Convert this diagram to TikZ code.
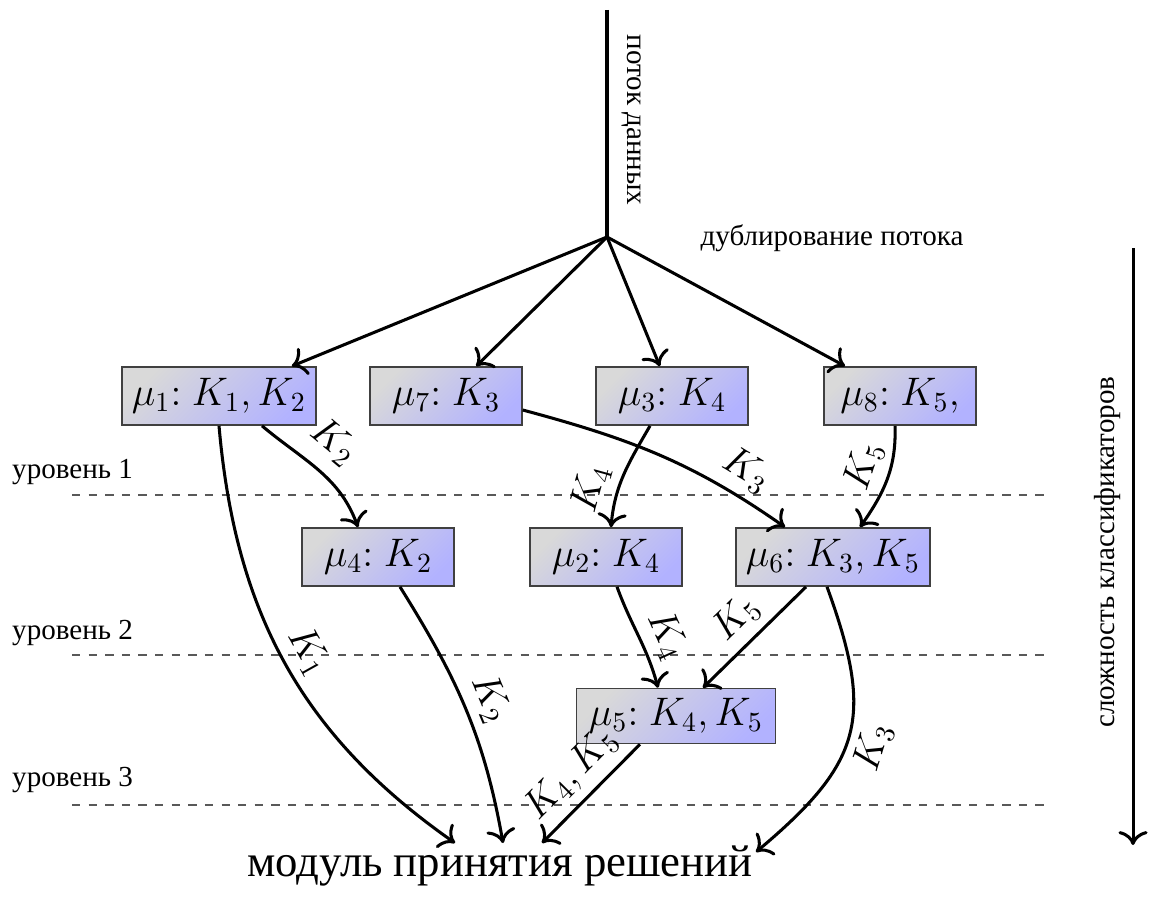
\documentclass[tikz,border=0pt]{standalone}
\usepackage[no-math]{fontspec}
\setmainfont{Liberation Serif}[Scale=1.05]
\usetikzlibrary{calc,arrows.meta}

\begin{document}
\begin{tikzpicture}[x=0.0127cm,y=0.0127cm,
  clf/.style={draw=black!75, line width=0.5pt, top color=gray!30, bottom color=blue!30,
              shading angle=45, font=\Large, minimum width=1.93cm, minimum height=0.74cm},
  flow/.style={-{To[scale=1.25]}, line width=1.1pt},
  lbl/.style={font=\Large, sloped, above, inner sep=3pt},
  lblb/.style={font=\Large, sloped, below, inner sep=3pt},
  lvl/.style={dashed, black!65, line width=0.5pt},
]
\useasboundingbox (0,0) rectangle (1151,-896);

% incoming data stream and its split
\coordinate (src) at (607,-10);
\coordinate (split) at (607,-237);
\draw[line width=1.1pt] (src) -- (split);
\node[rotate=-90] (flowlbl) at (632,-120) {поток данных};
\node (duplbl) at (832,-238) {дублирование потока};

% level separators
\coordinate (l1a) at (72,-495);  \coordinate (l1b) at (1045,-495);
\coordinate (l2a) at (72,-655);  \coordinate (l2b) at (1045,-655);
\coordinate (l3a) at (72,-805);  \coordinate (l3b) at (1045,-805);
\draw[lvl] (l1a) -- (l1b);
\draw[lvl] (l2a) -- (l2b);
\draw[lvl] (l3a) -- (l3b);
\node[anchor=west] (lv1) at (2,-472) {уровень 1};
\node[anchor=west] (lv2) at (2,-633) {уровень 2};
\node[anchor=west] (lv3) at (2,-780) {уровень 3};

% complexity axis
\coordinate (ax1) at (1133,-248);
\coordinate (ax2) at (1133,-845);
\draw[flow] (ax1) -- (ax2);
\node[rotate=90] (axlbl) at (1107,-552) {сложность классификаторов};

% classifiers
\node[clf] (m1) at (219,-396) {$\mu_1{:}$ $K_1, K_2$};
\node[clf] (m7) at (446,-396) {$\mu_7{:}$ $K_3$};
\node[clf] (m3) at (672,-396) {$\mu_3{:}$ $K_4$};
\node[clf] (m8) at (900,-396) {$\mu_8{:}$ $K_5,$};
\node[clf] (m4) at (378,-557) {$\mu_4{:}$ $K_2$};
\node[clf] (m2) at (606,-557) {$\mu_2{:}$ $K_4$};
\node[clf] (m6) at (833,-557) {$\mu_6{:}$ $K_3, K_5$};
\node[clf, minimum width=2.53cm, minimum height=0.70cm] (m5) at (676,-716) {$\mu_5{:}$ $K_4, K_5$};

% decision module
\node[font=\fontsize{15.4}{18}\selectfont] (dm) at (500,-866) {модуль принятия решений};

% duplication of the stream
\draw[flow] (split) -- (m1);
\draw[flow] (split) -- (m7);
\draw[flow] (split) -- (m3);
\draw[flow] (split) -- (m8);

% level 1 -> level 2
\draw[flow] ($(m1.south)+(43,0)$) to[out=-40,in=110]
  node[lbl,pos=0.45,inner sep=5pt] {$K_2$} ($(m4.north)+(-20,0)$);
\draw[flow] ($(m7.east)+(0,-14)$) to[out=-15,in=145]
  node[lbl,pos=0.8] {$K_3$} ($(m6.north)+(-48,0)$);
\draw[flow] ($(m3.south)+(-22,0)$) to[out=-120,in=85]
  node[lbl,pos=0.72] {$K_4$} ($(m2.north)+(5,0)$);
\draw[flow] ($(m8.south)+(-5,0)$) to[out=-88,in=55]
  node[lbl,pos=0.45] {$K_5$} ($(m6.north)+(27,0)$);

% level 2 -> level 3
\draw[flow] ($(m2.south)+(11,0)$) to[out=-70,in=105]
  node[lbl,pos=0.6] {$K_4$} ($(m5.north)+(-18,0)$);
\draw[flow] ($(m6.south)+(-27,0)$) --
  node[lbl,pos=0.5] {$K_5$} ($(m5.north)+(27,0)$);

% into the decision module
\draw[flow] (m1.south) to[out=-85,in=145]
  node[lbl,pos=0.5] {$K_1$} ($(dm.center)+(-45,23)$);
\draw[flow] ($(m4.south)+(22,0)$) to[out=-58,in=100]
  node[lbl,pos=0.5] {$K_2$} ($(dm.center)+(3,23)$);
\draw[flow] ($(m5.south)+(-36,0)$) --
  node[lbl,pos=0.5] {$K_4, K_5$} ($(dm.center)+(42,23)$);
\draw[flow] ($(m6.south)+(-6,0)$) to[out=-70,in=40,looseness=1.3]
  node[lblb,pos=0.52] {$K_3$} ($(dm.center)+(256,14)$);
\end{tikzpicture}
\end{document}
